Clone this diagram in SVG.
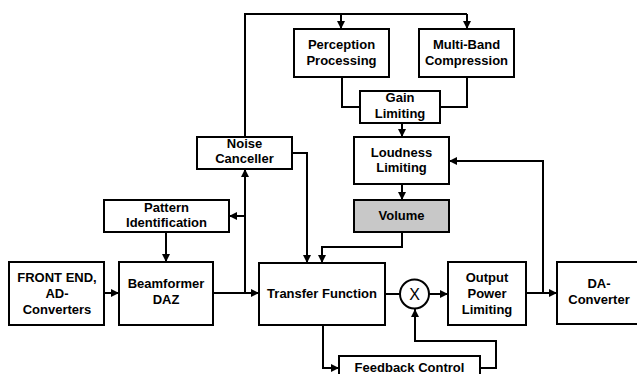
<svg xmlns="http://www.w3.org/2000/svg" width="637" height="374" viewBox="0 0 637 374">
<defs>
<marker id="ah" markerWidth="8" markerHeight="8" viewBox="0 0 8 8" refX="8" refY="4" orient="auto" markerUnits="userSpaceOnUse">
<path d="M0,0 L8,4 L0,8 Z" fill="#000"/>
</marker>
<style>
.box{fill:#fff;stroke:#000;stroke-width:2}
.gray{fill:#c8c8c8}
.t{font-family:"Liberation Sans",Arial,sans-serif;font-weight:bold;font-size:13px;text-anchor:middle;fill:#000}
.c{fill:none;stroke:#000;stroke-width:2}
.a{marker-end:url(#ah)}
</style>
</defs>
<rect width="637" height="374" fill="#fff"/>
<g id="connectors">
<path class="c a" d="M104,293 H119"/>
<path class="c a" d="M213,293 H259"/>
<path class="c a" d="M245,293 V169"/>
<path class="c a" d="M245,216 H229"/>
<path class="c a" d="M166,232 V262"/>
<path class="c" d="M245,137 V14 H467"/>
<path class="c a" d="M467,14 V29"/>
<path class="c a" d="M341,14 V29"/>
<path class="c a" d="M292,153 H307 V263"/>
<path class="c" d="M342,77 V107 H360"/>
<path class="c" d="M467,77 V107 H440"/>
<path class="c a" d="M402,123 V137"/>
<path class="c a" d="M402,184 V200"/>
<path class="c a" d="M402,232 V247 H322 V263"/>
<path class="c" d="M385,294 H400"/>
<path class="c a" d="M429,294 H448"/>
<path class="c a" d="M526,293 H557"/>
<path class="c a" d="M543,293 V161 H449"/>
<path class="c a" d="M323,325 V368 H339"/>
<path class="c a" d="M480,368 H496 V341 H415 V309"/>
</g>
<g id="frontend">
<rect class="box" x="9" y="262" width="95" height="63"/>
<text class="t" x="57" y="282">FRONT END,</text>
<text class="t" x="57" y="298">AD-</text>
<text class="t" x="57" y="314">Converters</text>
</g>
<g id="beamformer">
<rect class="box" x="119" y="262" width="94" height="63"/>
<text class="t" x="166" y="288">Beamformer</text>
<text class="t" x="166" y="304">DAZ</text>
</g>
<g id="pattern">
<rect class="box" x="104" y="200" width="125" height="32"/>
<text class="t" x="166.5" y="212">Pattern</text>
<text class="t" x="166.5" y="227">Identification</text>
</g>
<g id="noise">
<rect class="box" x="197" y="137" width="95" height="32"/>
<text class="t" x="244.5" y="148">Noise</text>
<text class="t" x="244.5" y="163">Canceller</text>
</g>
<g id="perception">
<rect class="box" x="294" y="29" width="95" height="48"/>
<text class="t" x="341.5" y="49">Perception</text>
<text class="t" x="341.5" y="65">Processing</text>
</g>
<g id="multiband">
<rect class="box" x="419" y="29" width="95" height="48"/>
<text class="t" x="466.5" y="49">Multi-Band</text>
<text class="t" x="466.5" y="65">Compression</text>
</g>
<g id="gain">
<rect class="box" x="360" y="91" width="80" height="32"/>
<text class="t" x="400" y="102">Gain</text>
<text class="t" x="400" y="118">Limiting</text>
</g>
<g id="loudness">
<rect class="box" x="354" y="137" width="95" height="47"/>
<text class="t" x="401.5" y="157">Loudness</text>
<text class="t" x="401.5" y="172">Limiting</text>
</g>
<g id="volume">
<rect class="box gray" x="354" y="200" width="95" height="32"/>
<text class="t" x="401.5" y="220">Volume</text>
</g>
<g id="transfer">
<rect class="box" x="259" y="263" width="126" height="62"/>
<text class="t" x="322" y="298">Transfer Function</text>
</g>
<g id="multiplier">
<circle cx="414.5" cy="294" r="14.5" fill="#fff" stroke="#000" stroke-width="2"/>
<text x="414.5" y="300" font-family="Liberation Sans,Arial,sans-serif" font-size="16" text-anchor="middle">X</text>
</g>
<g id="output">
<rect class="box" x="448" y="262" width="78" height="63"/>
<text class="t" x="487" y="282">Output</text>
<text class="t" x="487" y="298">Power</text>
<text class="t" x="487" y="314">Limiting</text>
</g>
<g id="da">
<rect class="box" x="557" y="262" width="84" height="62"/>
<text class="t" x="599" y="288">DA-</text>
<text class="t" x="599" y="304">Converter</text>
</g>
<g id="feedback">
<rect class="box" x="339" y="356" width="141" height="24"/>
<text class="t" x="409.5" y="372">Feedback Control</text>
</g>
</svg>
